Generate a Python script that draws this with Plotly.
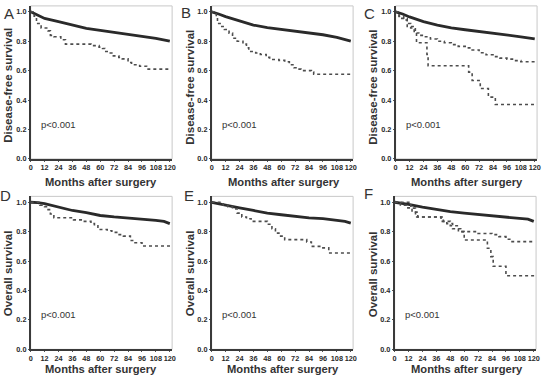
import plotly.graph_objects as go

# ---------------- data ----------------
month_ticks = [0, 12, 24, 36, 48, 60, 72, 84, 96, 108, 120]
surv_ticks = [0.0, 0.2, 0.4, 0.6, 0.8, 1.0]
panel_letters = ["A", "B", "C", "D", "E", "F"]
y_titles = ["Disease-free survival"] * 3 + ["Overall survival"] * 3
x_title = "Months after surgery"
p_text = "p<0.001"

# Panel A
a_solid_t = [0, 3, 6, 12, 24, 36, 48, 60, 72, 84, 96, 108, 120]
a_solid_s = [1.0, 0.99, 0.975, 0.955, 0.933, 0.91, 0.888, 0.873, 0.86, 0.85, 0.833, 0.82, 0.80]
a_dash_t = [0, 3, 5, 9, 15, 17, 20, 26, 30, 52, 59, 62, 64, 66, 70, 76, 79, 84, 87, 94, 100, 121]
a_dash_s = [1.0, 0.97, 0.92, 0.89, 0.87, 0.84, 0.83, 0.81, 0.78, 0.77, 0.76, 0.75, 0.73, 0.72, 0.70, 0.69, 0.68, 0.655, 0.64, 0.63, 0.61, 0.61]

# Panel B
b_solid_t = [0, 3, 6, 12, 24, 36, 48, 60, 72, 84, 96, 108, 120]
b_solid_s = [1.0, 0.995, 0.985, 0.967, 0.94, 0.91, 0.893, 0.88, 0.866, 0.858, 0.844, 0.826, 0.80]
b_dash_t = [0, 4, 5, 8, 11, 15, 18, 22, 27, 30, 32, 38, 42, 47, 50, 58, 63, 67, 71, 74, 77, 86, 88, 121]
b_dash_s = [1.0, 0.97, 0.92, 0.90, 0.88, 0.855, 0.82, 0.80, 0.78, 0.755, 0.73, 0.72, 0.71, 0.69, 0.676, 0.67, 0.66, 0.64, 0.62, 0.61, 0.60, 0.59, 0.575, 0.575]

# Panel C
c_solid_t = [0, 3, 6, 12, 24, 36, 48, 60, 72, 84, 96, 108, 120]
c_solid_s = [1.0, 0.995, 0.985, 0.965, 0.933, 0.91, 0.89, 0.878, 0.867, 0.855, 0.844, 0.83, 0.816]
c_mid_t = [0, 3, 7, 10, 13, 17, 20, 24, 30, 36, 42, 48, 54, 60, 66, 72, 78, 84, 90, 96, 102, 108, 121]
c_mid_s = [1.0, 0.97, 0.944, 0.92, 0.89, 0.856, 0.84, 0.83, 0.815, 0.80, 0.79, 0.777, 0.765, 0.755, 0.74, 0.722, 0.708, 0.695, 0.685, 0.678, 0.668, 0.66, 0.66]
c_low_t = [0, 3, 10, 16, 18, 27, 28, 63, 66, 73, 80, 86, 121]
c_low_s = [1.0, 0.955, 0.90, 0.86, 0.79, 0.71, 0.633, 0.59, 0.533, 0.478, 0.42, 0.37, 0.37]

# Panel D
d_solid_t = [0, 6, 12, 24, 36, 48, 60, 72, 84, 96, 108, 115, 120]
d_solid_s = [1.0, 0.998, 0.99, 0.967, 0.944, 0.93, 0.91, 0.90, 0.893, 0.888, 0.877, 0.87, 0.855]
d_dash_t = [0, 8, 12, 15, 17, 20, 37, 45, 52, 55, 58, 66, 70, 75, 80, 86, 90, 96, 121]
d_dash_s = [1.0, 0.98, 0.97, 0.95, 0.92, 0.895, 0.88, 0.87, 0.855, 0.84, 0.815, 0.806, 0.795, 0.78, 0.77, 0.74, 0.725, 0.703, 0.703]

# Panel E
e_solid_t = [0, 6, 12, 24, 36, 48, 60, 72, 84, 96, 108, 115, 120]
e_solid_s = [1.0, 0.99, 0.978, 0.962, 0.944, 0.926, 0.915, 0.903, 0.894, 0.888, 0.876, 0.87, 0.858]
e_dash_t = [0, 8, 10, 14, 18, 22, 26, 30, 34, 48, 52, 55, 58, 63, 82, 86, 95, 101, 121]
e_dash_s = [1.0, 0.99, 0.98, 0.97, 0.955, 0.926, 0.90, 0.888, 0.87, 0.85, 0.82, 0.79, 0.77, 0.746, 0.73, 0.70, 0.69, 0.655, 0.655]

# Panel F
f_solid_t = [0, 6, 12, 24, 36, 48, 60, 72, 84, 96, 108, 115, 120]
f_solid_s = [1.0, 0.995, 0.985, 0.967, 0.95, 0.937, 0.926, 0.917, 0.91, 0.904, 0.895, 0.885, 0.87]
f_up_t = [0, 5, 10, 15, 20, 40, 45, 50, 57, 72, 84, 90, 96, 100, 121]
f_up_s = [1.0, 0.98, 0.962, 0.933, 0.90, 0.87, 0.855, 0.82, 0.80, 0.788, 0.78, 0.766, 0.748, 0.732, 0.732]
f_low_t = [0, 14, 18, 42, 48, 55, 60, 80, 83, 85, 96, 121]
f_low_s = [1.0, 0.96, 0.90, 0.87, 0.84, 0.80, 0.743, 0.687, 0.63, 0.565, 0.50, 0.50]

panels = [
    [(a_solid_t, a_solid_s, "solid"), (a_dash_t, a_dash_s, "dash")],
    [(b_solid_t, b_solid_s, "solid"), (b_dash_t, b_dash_s, "dash")],
    [(c_solid_t, c_solid_s, "solid"), (c_mid_t, c_mid_s, "dash"), (c_low_t, c_low_s, "dash")],
    [(d_solid_t, d_solid_s, "solid"), (d_dash_t, d_dash_s, "dash")],
    [(e_solid_t, e_solid_s, "solid"), (e_dash_t, e_dash_s, "dash")],
    [(f_solid_t, f_solid_s, "solid"), (f_up_t, f_up_s, "dash"), (f_low_t, f_low_s, "dash")],
]

# ---------------- layout (pixels) ----------------
W, H = 547, 379
x_doms = [(29, 172), (212, 355), (398, 541), (29, 172), (212, 355), (397, 540)]
y_doms = [(6, 161)] * 3 + [(199, 354)] * 3  # top, bottom in px from top
letter_pos = [(7, 14), (186, 13), (372, 14), (4, 198), (189, 198), (371, 196)]
ytitle_pos = [(6, 86), (190, 88), (375, 88), (6, 277), (190, 277), (375, 278)]
xtitle_pos = [(100, 184), (285, 184), (470, 184), (100, 374), (284, 374), (470, 374)]

FONT = "Liberation Sans, Arial, sans-serif"
fig = go.Figure()
annotations = []
shapes = []

for i, curves in enumerate(panels):
    n = "" if i == 0 else str(i + 1)
    xa, ya = "x" + n, "y" + n
    for t, s, kind in curves:
        if kind == "solid":
            fig.add_trace(go.Scatter(x=t, y=s, xaxis=xa, yaxis=ya, mode="lines",
                                     line=dict(color="#2a2a2a", width=2.8, shape="linear"),
                                     showlegend=False, hoverinfo="skip"))
        else:
            fig.add_trace(go.Scatter(x=t, y=s, xaxis=xa, yaxis=ya, mode="lines",
                                     line=dict(color="#4d4d4d", width=1.6, dash="dot", shape="hv"),
                                     showlegend=False, hoverinfo="skip"))
    x0, x1 = x_doms[i]
    yt, yb = y_doms[i]
    axis_common = dict(showgrid=False, zeroline=False, showline=True, linecolor="#3a3a3a",
                       linewidth=1.5, ticks="outside", ticklen=1, tickcolor="#555",
                       tickfont=dict(family=FONT, size=7.3, color="#2a2a2a", weight="bold"))
    fig.update_layout(**{
        ("xaxis" + n): dict(domain=[x0 / W, x1 / W], range=[0, 122], tickvals=month_ticks,
                            tickangle=0, anchor=ya, **axis_common),
        ("yaxis" + n): dict(domain=[1 - yb / H, 1 - yt / H], range=[0, 1.04], tickvals=surv_ticks,
                            tickformat=".1f", anchor=xa, **axis_common),
    })
    shapes.append(dict(type="rect", xref=xa + " domain", yref=ya + " domain",
                       x0=0, x1=1, y0=0, y1=1, line=dict(color="#c8c8c8", width=1), layer="below"))
    lx, ly = letter_pos[i]
    annotations.append(dict(text=panel_letters[i], x=lx / W, y=1 - ly / H, xref="paper", yref="paper",
                            showarrow=False, xanchor="center", yanchor="middle",
                            font=dict(family=FONT, size=15, color="#333")))
    tx, ty = ytitle_pos[i]
    annotations.append(dict(text=y_titles[i], x=tx / W, y=1 - ty / H, xref="paper", yref="paper",
                            showarrow=False, textangle=-90, xanchor="center", yanchor="middle",
                            font=dict(family=FONT, size=11.5, color="#333", weight="bold")))
    tx, ty = xtitle_pos[i]
    annotations.append(dict(text=x_title, x=tx / W, y=1 - ty / H, xref="paper", yref="paper",
                            showarrow=False, xanchor="center", yanchor="middle", borderpad=0,
                            font=dict(family=FONT, size=11.2, color="#333", weight="bold")))
    annotations.append(dict(text=p_text, x=7.5, y=0.235, xref=xa, yref=ya, showarrow=False,
                            xanchor="left", yanchor="middle",
                            font=dict(family=FONT, size=9.5, color="#333")))

fig.update_layout(width=W, height=H, margin=dict(l=0, r=0, t=0, b=0),
                  paper_bgcolor="white", plot_bgcolor="white",
                  annotations=annotations, shapes=shapes)

fig.write_html("out.html")
